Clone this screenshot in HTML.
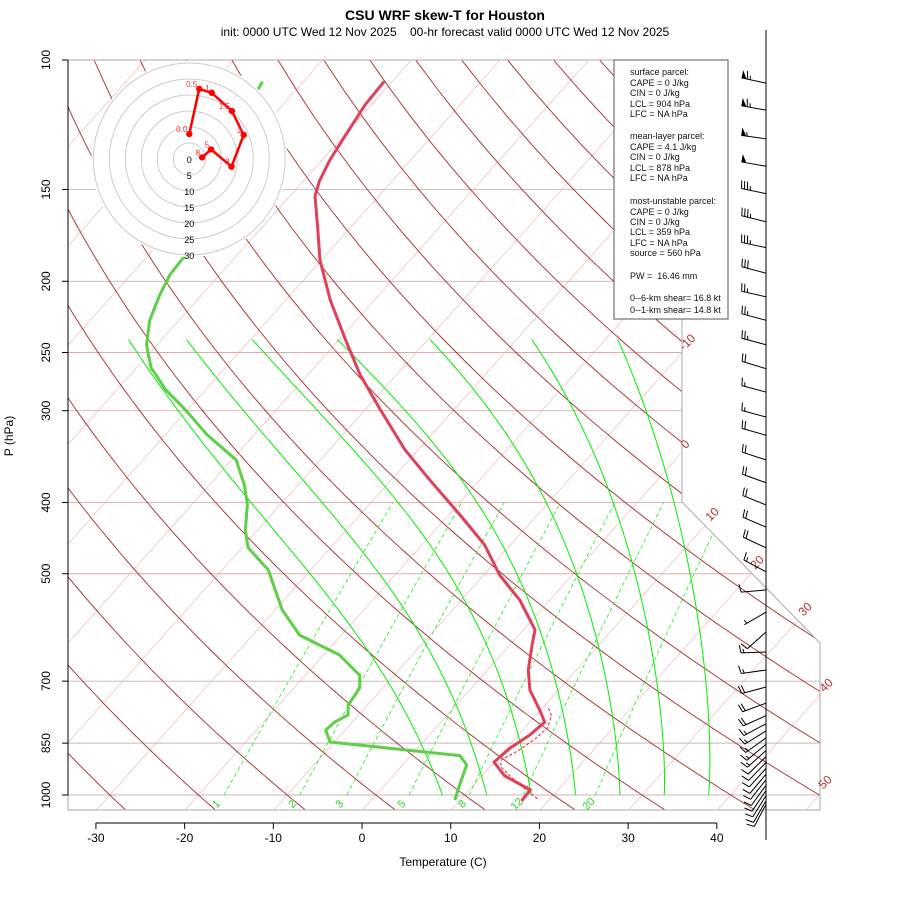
<!DOCTYPE html>
<html><head><meta charset="utf-8"><style>
html,body{margin:0;padding:0;background:#fff}
svg{display:block;font-family:"Liberation Sans",sans-serif}
</style></head><body>
<svg id="c" width="900" height="900" viewBox="0 0 900 900" xmlns="http://www.w3.org/2000/svg">
<defs><clipPath id="pc"><polygon points="68,60 682,60 682,502 820,643 820,810 68,810"/></clipPath></defs>
<text x="445" y="20" text-anchor="middle" font-size="14" font-weight="bold">CSU WRF skew-T for Houston</text>
<text x="445" y="36" text-anchor="middle" font-size="12">init: 0000 UTC Wed 12 Nov 2025&#160;&#160;&#160;&#160;00-hr forecast valid 0000 UTC Wed 12 Nov 2025</text>
<text x="443" y="866" text-anchor="middle" font-size="12">Temperature (C)</text>
<text transform="translate(13,436) rotate(-90)" text-anchor="middle" font-size="12">P (hPa)</text>
<g id="grid" clip-path="url(#pc)"></g>
<g id="prof" clip-path="url(#pc)"></g>
<g id="frame"></g>
<g id="axes"></g>
<g id="barbs"></g>
<g id="hodo"></g>
<g id="legend">
<rect x="614" y="60" width="114" height="259" fill="#fff" stroke="#555" stroke-width="1"/>
<g font-size="9" fill="#111">
<text x="630" y="75">surface parcel:</text>
<text x="630" y="86">CAPE = 0 J/kg</text>
<text x="630" y="96">CIN = 0 J/kg</text>
<text x="630" y="107">LCL = 904 hPa</text>
<text x="630" y="117">LFC = NA hPa</text>
<text x="630" y="139">mean-layer parcel:</text>
<text x="630" y="150">CAPE = 4.1 J/kg</text>
<text x="630" y="160">CIN = 0 J/kg</text>
<text x="630" y="171">LCL = 878 hPa</text>
<text x="630" y="181">LFC = NA hPa</text>
<text x="630" y="204">most-unstable parcel:</text>
<text x="630" y="215">CAPE = 0 J/kg</text>
<text x="630" y="225">CIN = 0 J/kg</text>
<text x="630" y="235">LCL = 359 hPa</text>
<text x="630" y="246">LFC = NA hPa</text>
<text x="630" y="256">source = 560 hPa</text>
<text x="630" y="279">PW =&#160; 16.46 mm</text>
<text x="630" y="301">0--6-km shear= 16.8 kt</text>
<text x="630" y="313">0--1-km shear= 14.8 kt</text>
</g></g>
</svg>
<script>
// ---- data ----
const tempP = [1019,984,942,902,863,829,796,766,720,676,625,596,543,502,457,416,373,339,299,268,240,212,187,170,153,146,137,126,115,107];
const tempT = [17.0,16.9,12.6,10.0,10.4,11.3,11.7,9.9,6.8,4.6,2.5,1.3,-3.4,-8.2,-12.9,-18.7,-25.6,-31.5,-38.3,-44.1,-49.3,-55.0,-60.2,-63.5,-67.2,-68.2,-69.1,-69.9,-70.7,-70.9];
const dewP = [1016,963,910,884,847,816,796,778,754,715,687,645,606,560,526,494,461,436,403,379,350,324,299,281,262,244,226,209,196,181,140,112,107];
const dewT = [9.4,8.3,7.2,5.5,-10.5,-12.2,-12.0,-11.2,-12.2,-12.6,-13.9,-18.2,-24.7,-29.2,-32.0,-34.8,-39.3,-41.4,-43.7,-46.0,-49.5,-55.2,-60.3,-64.5,-68.4,-71.2,-73.3,-74.7,-75.6,-75.9,-80,-84.1,-84.6];
const parcelP = [1012,985,950,915,895,870,840,810,780,760];
const parcelT = [18.6,16.5,13.8,11.2,10.6,11.6,12.3,12.6,11.8,10.6];
const isobars = [100,150,200,250,300,400,500,700,850,1000,1050];
const isotherms = [-120,-110,-100,-90,-80,-70,-60,-50,-40,-30,-20,-10,0,10,20,30,40,50];
const thetas = [-40,-30,-20,-10,0,10,20,30,40,50,60,70,80,90,100,110,120,130,140,150,160,170,180,190,200];
const moistT = [7.5,12.5,17.5,22.5,27.5,32.5,37.5];
const mixRatios = [1,2,3,5,8,12,20];
const xTicks = [-30,-20,-10,0,10,20,30,40];
const windP = [107.5,117,128,139.5,152,166,180,195,210,226,244,263,283,306,324,350,376,403,432,461,497,526,564,600,639,676,713,750,780,800,818,836,853,870,887,903,920,937,953,970,986,1002,1018,1030];
const windDir = [282,280,278,280,282,284,282,285,283,285,285,287,285,285,286,288,290,292,293,295,298,265,240,228,268,262,255,250,246,242,238,234,230,228,226,224,222,220,218,216,214,212,210,208];
const windSpd = [65,65,55,50,35,35,35,30,25,25,25,20,15,15,20,20,20,20,20,20,15,10,5,10,15,15,20,20,20,15,15,15,15,15,10,10,10,10,10,10,10,10,10,10];
const hodoU = [0,3.1,7.0,13.3,17,13.2,6.8,4];
const hodoV = [7.8,21.9,20.7,15,7.5,-2.4,3,0.5];
const hodoLbl = ["0.0","0.5","1","1.5","2","3","5","8"];
const hodoRings = [5,10,15,20,25,30];

// ---- scales ----
const NS='http://www.w3.org/2000/svg';
function yP(p){return 795+319.2*Math.log(p/1000);}
function xT(T,p){return 362+8.87*T+0.893*(810.6-yP(p));}
function mk(tag,attrs,parent){const e=document.createElementNS(NS,tag);for(const k in attrs)e.setAttribute(k,attrs[k]);parent.appendChild(e);return e;}
function pts(arr){return arr.map(a=>a[0].toFixed(1)+','+a[1].toFixed(1)).join(' ');}
const G=document.getElementById('grid'),P=document.getElementById('prof'),F=document.getElementById('frame'),A=document.getElementById('axes'),B=document.getElementById('barbs'),H=document.getElementById('hodo');

// isotherms
isotherms.forEach(t=>{const l=mk('line',{x1:xT(t,1050),y1:yP(1050),x2:xT(t,100),y2:yP(100),stroke:'#efc4c4','stroke-width':0.8},G);

});
// isobars
isobars.forEach(p=>{const gray=[150,200,700,850,1000].includes(p);const l=mk('line',{x1:68,y1:yP(p),x2:820,y2:yP(p),stroke:gray?'#c8b4b4':'#e0a8a8','stroke-width':0.9},G);

});
// dry adiabats
thetas.forEach(th=>{const a=[];for(let p=1050;p>=100;p-=10){a.push([xT((th+273.15)*Math.pow(p/1000,0.2857)-273.15,p),yP(p)]);}
const l=mk('polyline',{points:pts(a),fill:'none',stroke:'#a52a2a','stroke-width':0.9},G);

});
// moist adiabats (with top-end shape correction to match reference style)
function es(Tc){return 6.112*Math.exp(17.67*Tc/(Tc+243.5));}
const topFix=[8,-8,-33,-59,-94,-115,-130];
moistT.forEach((t0,j)=>{let T=t0+273.15;const a=[[xT(t0,1000),yP(1000)]];const lt=Math.log(1000/240);
for(let p=1000;p>240;p-=2){const Tc=T-273.15,e=es(Tc),rs=0.622*e/(p-e);
const d=(287*T+2.5e6*rs)/(p*(1004+2.5e6*2.5e6*rs*0.622/(287*T*T)));T-=d*2;
const pp=p-2,f=Math.pow(Math.log(1000/pp)/lt,1.5);a.push([xT(T-273.15,pp)+topFix[j]*f,yP(pp)]);}
const l=mk('polyline',{points:pts(a),fill:'none',stroke:'#00ee00','stroke-width':1},G);

});
// mixing ratio lines
function tdw(w,p){const e=w*p/(622+w),L=Math.log(e/6.112);return 243.5*L/(17.67-L);}
mixRatios.forEach(w=>{const a=[];for(let p=1000;p>=400;p-=10)a.push([xT(tdw(w,p),p),yP(p)]);
const l=mk('polyline',{points:pts(a),fill:'none',stroke:'#33ee33','stroke-width':0.9,'stroke-dasharray':'4,3'},G);


const x=xT(tdw(w,1030),1030),y=yP(1030)+2;
const t=mk('text',{transform:`translate(${x.toFixed(1)},${y.toFixed(1)}) rotate(-45)`,'text-anchor':'middle','font-size':11,fill:'#22dd22'},A);t.textContent=w;

});

// profiles
const tl=mk('polyline',{points:pts(tempP.map((p,i)=>[xT(tempT[i],p),yP(p)])),fill:'none',stroke:'#e0405a','stroke-width':3,'stroke-linejoin':'round'},P);


const dl=mk('polyline',{points:pts(dewP.map((p,i)=>[xT(dewT[i],p),yP(p)])),fill:'none',stroke:'#5fcf48','stroke-width':3,'stroke-linejoin':'round'},P);


const pl=mk('polyline',{points:pts(parcelP.map((p,i)=>[xT(parcelT[i],p),yP(p)])),fill:'none',stroke:'#ff2020','stroke-width':1,'stroke-dasharray':'3,2'},P);



// frame
const fr=mk('polyline',{points:'68,60 682,60 682,502 820,643 820,810 68,810 68,60',fill:'none',stroke:'#aaa','stroke-width':1},F);


// y axis
mk('line',{x1:68,y1:60,x2:68,y2:795,stroke:'#000'},A);
[100,150,200,250,300,400,500,700,850,1000].forEach(p=>{const y=yP(p);mk('line',{x1:62,y1:y,x2:68,y2:y,stroke:'#000'},A);
const t=mk('text',{transform:`translate(50,${y.toFixed(1)}) rotate(-90)`,'text-anchor':'middle','font-size':12},A);t.textContent=p;

});
// x axis
mk('line',{x1:xT(-30,1050),y1:823,x2:xT(40,1050),y2:823,stroke:'#000'},A);
xTicks.forEach(v=>{const x=xT(v,1050);mk('line',{x1:x,y1:823,x2:x,y2:829,stroke:'#000'},A);
const t=mk('text',{x:x,y:842,'text-anchor':'middle','font-size':12},A);t.textContent=v;

});
// isotherm labels
[[-10,690,345],[0,688,447],[10,715,517],[20,760,565],[30,808,612],[40,829,688],[50,828,785]].forEach(a=>{
const t=mk('text',{transform:`translate(${a[1]},${a[2]}) rotate(-45)`,'text-anchor':'middle','font-size':12,fill:'#b03030'},A);t.textContent=a[0];

});

// wind barbs
mk('line',{x1:766,y1:30,x2:766,y2:840,stroke:'#000'},B);
windP.forEach((p,i)=>{const y0=yP(p),d=windDir[i]*Math.PI/180,L=25;
const ux=Math.sin(d),uy=-Math.cos(d);
const tx=766+L*ux,ty=y0+L*uy;
const g=mk('g',{},B);


mk('line',{x1:766,y1:y0,x2:tx,y2:ty,stroke:'#000','stroke-width':1},g);
let s=windSpd[i],pos=0;const fx=-uy,fy=ux;
const px=(k)=>[tx-ux*k,ty-uy*k];
while(s>=50){const a=px(pos),b=px(pos+5);mk('polygon',{points:`${a[0]},${a[1]} ${b[0]},${b[1]} ${a[0]+fx*8},${a[1]+fy*8}`,fill:'#000'},g);pos+=6;s-=50;}
while(s>=10){const a=px(pos);mk('line',{x1:a[0],y1:a[1],x2:a[0]+fx*8+ux*1.5,y2:a[1]+fy*8+uy*1.5,stroke:'#000'},g);pos+=3;s-=10;}
if(s>=5){if(pos===0)pos=3;const a=px(pos);mk('line',{x1:a[0],y1:a[1],x2:a[0]+fx*4+ux*1,y2:a[1]+fy*4+uy*1,stroke:'#000'},g);}
});

// hodograph
const cx=189.3,cy=159,k=3.2;
mk('circle',{cx:cx,cy:cy,r:98,fill:'#fff'},H);
hodoRings.forEach(r=>{const c=mk('circle',{cx:cx,cy:cy,r:r*k,fill:'none',stroke:'#ccc','stroke-width':1},H);


const t=mk('text',{x:cx,y:cy+r*k+4,'text-anchor':'middle','font-size':9},H);t.textContent=r;

});
const t0=mk('text',{x:cx,y:cy+4,'text-anchor':'middle','font-size':9},H);t0.textContent='0';
const hp=hodoU.map((u,i)=>[cx+u*k,cy-hodoV[i]*k]);
const hl=mk('polyline',{points:pts(hp),fill:'none',stroke:'#ff0000','stroke-width':2.5},H);


hp.forEach((q,i)=>{const c=mk('circle',{cx:q[0],cy:q[1],r:3.2,fill:'#ff0000'},H);


const t=mk('text',{x:q[0]-2,y:q[1]-2,'text-anchor':'end','font-size':8,fill:'#ff3030'},H);t.textContent=hodoLbl[i];

});
</script>
</body></html>
